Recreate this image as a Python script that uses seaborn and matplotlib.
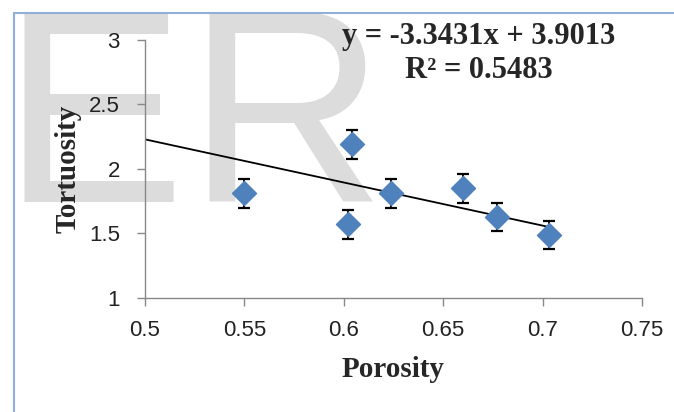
import numpy as np
import pandas as pd
import matplotlib
matplotlib.use("Agg")
import matplotlib.pyplot as plt
import seaborn as sns
from matplotlib.lines import Line2D
from matplotlib.transforms import Bbox, TransformedBbox

# data
porosity = [0.550, 0.602, 0.604, 0.624, 0.660, 0.677, 0.703]
tortuosity = [1.81, 1.57, 2.19, 1.81, 1.85, 1.63, 1.49]
err = [0.11, 0.11, 0.11, 0.11, 0.11, 0.11, 0.11]
slope, intercept = -3.3431, 3.9013
fit_x = [0.5, 0.705]
x_ticks = [0.5, 0.55, 0.6, 0.65, 0.7, 0.75]
x_labels = ["0.5", "0.55", "0.6", "0.65", "0.7", "0.75"]
y_ticks = [1, 1.5, 2, 2.5, 3]
y_labels = ["1", "1.5", "2", "2.5", "3"]

df = pd.DataFrame({"Porosity": porosity, "Tortuosity": tortuosity})
fit = pd.DataFrame({"x": fit_x, "y": [slope * v + intercept for v in fit_x]})

sns.set_style("white")
plt.rcParams["font.family"] = ["Liberation Sans", "DejaVu Sans"]

fig = plt.figure(figsize=(6.74, 4.12), dpi=100)
ax = fig.add_axes([0.215, 0.2767, 0.7375, 0.6263])
ax.set_facecolor("none")

# watermark behind the axes, cut off at the page frame
page = TransformedBbox(Bbox([[0.021, 0.0], [1.0, 0.968]]), fig.transFigure)
for letter, xpos in [("E", 0.0015), ("R", 0.276)]:
    t = fig.text(xpos, 0.51, letter, fontsize=198, color="#dcdcdc",
                 family="Liberation Sans", ha="left", va="baseline", zorder=-5)
    t.set_clip_box(page)
    t.set_clip_on(True)

# frame lines of the page
fig.add_artist(Line2D([0.021, 1.0], [0.968, 0.968], color="#8fb0dc", lw=1.5))
fig.add_artist(Line2D([0.021, 0.021], [0.0, 0.968], color="#8fb0dc", lw=1.5))

sns.lineplot(data=fit, x="x", y="y", color="black", lw=1.3, ax=ax, zorder=2)
ax.errorbar(porosity, tortuosity, yerr=err, fmt="none", ecolor="black",
            elinewidth=1.3, capsize=4, capthick=1.6, zorder=3)
sns.scatterplot(data=df, x="Porosity", y="Tortuosity", marker="D", s=150,
                color="#4f81bd", edgecolor="#4f81bd", ax=ax, zorder=4)

ax.set_xlim(0.5, 0.75)
ax.set_ylim(1, 3)
ax.set_xticks(x_ticks)
ax.set_xticklabels(x_labels)
ax.set_yticks(y_ticks)
ax.set_yticklabels(y_labels)
ax.tick_params(axis="both", direction="out", length=6, width=1, color="#888888",
               labelsize=16, labelcolor="#222222")
ax.tick_params(axis="x", pad=10, bottom=True)
ax.tick_params(axis="y", pad=12, left=True)
for s in ["top", "right"]:
    ax.spines[s].set_visible(False)
for s in ["left", "bottom"]:
    ax.spines[s].set_color("#888888")
    ax.spines[s].set_linewidth(1)

ax.set_xlabel("Porosity", family="Liberation Serif", fontweight="bold",
              fontsize=21, labelpad=11)
ax.set_ylabel("Tortuosity", family="Liberation Serif", fontweight="bold",
              fontsize=21, labelpad=5)

ax.text(0.668, 2.895, "y = -3.3431x + 3.9013\nR² = 0.5483", family="Liberation Serif",
        fontweight="bold", fontsize=22, ha="center", va="center",
        linespacing=1.2, zorder=5)

fig.savefig("out.png", dpi=100)
